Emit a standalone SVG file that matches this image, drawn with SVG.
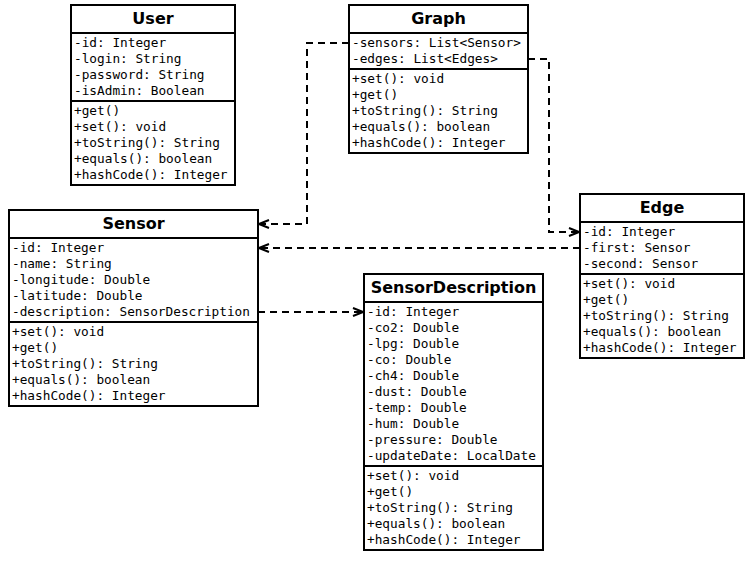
<svg xmlns="http://www.w3.org/2000/svg" width="755" height="561" viewBox="0 0 755 561">
<style>
.box{fill:#fff;stroke:#000;stroke-width:2}
.sep{stroke:#000;stroke-width:2}
.t{font-family:"DejaVu Sans","Liberation Sans",sans-serif;font-weight:bold;font-size:16px;text-anchor:middle;fill:#000}
.m{font-family:"DejaVu Sans Mono","Liberation Mono",monospace;font-size:12.75px;fill:#000}
.c{fill:none;stroke:#000;stroke-width:2;stroke-dasharray:7 5}
</style>
<defs>
<marker id="arr" viewBox="0 0 12 10" refX="11" refY="5" markerWidth="12" markerHeight="10" markerUnits="userSpaceOnUse" orient="auto">
<path d="M1,1 L11,5 L1,9" fill="none" stroke="#000" stroke-width="2" stroke-dasharray="none"/>
</marker>
</defs>
<g id="connectors">
<path class="c" d="M349,43 H307 V224 H259" marker-end="url(#arr)"/>
<path class="c" d="M528,59 H549 V232 H579" marker-end="url(#arr)"/>
<path class="c" d="M580,248 H259" marker-end="url(#arr)"/>
<path class="c" d="M258,312 H363" marker-end="url(#arr)"/>
</g>
<g id="User">
<rect class="box" x="71" y="5" width="164" height="180"/>
<line class="sep" x1="71" y1="33" x2="235" y2="33"/>
<line class="sep" x1="71" y1="101" x2="235" y2="101"/>
<text class="t" x="153" y="24">User</text>
<text class="m" x="74" y="46.5">-id: Integer</text>
<text class="m" x="74" y="62.5">-login: String</text>
<text class="m" x="74" y="78.5">-password: String</text>
<text class="m" x="74" y="94.5">-isAdmin: Boolean</text>
<text class="m" x="74" y="114.5">+get()</text>
<text class="m" x="74" y="130.5">+set(): void</text>
<text class="m" x="74" y="146.5">+toString(): String</text>
<text class="m" x="74" y="162.5">+equals(): boolean</text>
<text class="m" x="74" y="178.5">+hashCode(): Integer</text>
</g>
<g id="Graph">
<rect class="box" x="349" y="5" width="179" height="148"/>
<line class="sep" x1="349" y1="33" x2="528" y2="33"/>
<line class="sep" x1="349" y1="69" x2="528" y2="69"/>
<text class="t" x="438.5" y="24">Graph</text>
<text class="m" x="352" y="46.5">-sensors: List&lt;Sensor&gt;</text>
<text class="m" x="352" y="62.5">-edges: List&lt;Edges&gt;</text>
<text class="m" x="352" y="82.5">+set(): void</text>
<text class="m" x="352" y="98.5">+get()</text>
<text class="m" x="352" y="114.5">+toString(): String</text>
<text class="m" x="352" y="130.5">+equals(): boolean</text>
<text class="m" x="352" y="146.5">+hashCode(): Integer</text>
</g>
<g id="Sensor">
<rect class="box" x="9" y="210" width="249" height="196"/>
<line class="sep" x1="9" y1="238" x2="258" y2="238"/>
<line class="sep" x1="9" y1="322" x2="258" y2="322"/>
<text class="t" x="133.5" y="229">Sensor</text>
<text class="m" x="12" y="251.5">-id: Integer</text>
<text class="m" x="12" y="267.5">-name: String</text>
<text class="m" x="12" y="283.5">-longitude: Double</text>
<text class="m" x="12" y="299.5">-latitude: Double</text>
<text class="m" x="12" y="315.5">-description: SensorDescription</text>
<text class="m" x="12" y="335.5">+set(): void</text>
<text class="m" x="12" y="351.5">+get()</text>
<text class="m" x="12" y="367.5">+toString(): String</text>
<text class="m" x="12" y="383.5">+equals(): boolean</text>
<text class="m" x="12" y="399.5">+hashCode(): Integer</text>
</g>
<g id="SensorDescription">
<rect class="box" x="364" y="274" width="179" height="276"/>
<line class="sep" x1="364" y1="302" x2="543" y2="302"/>
<line class="sep" x1="364" y1="466" x2="543" y2="466"/>
<text class="t" x="453.5" y="293">SensorDescription</text>
<text class="m" x="367" y="315.5">-id: Integer</text>
<text class="m" x="367" y="331.5">-co2: Double</text>
<text class="m" x="367" y="347.5">-lpg: Double</text>
<text class="m" x="367" y="363.5">-co: Double</text>
<text class="m" x="367" y="379.5">-ch4: Double</text>
<text class="m" x="367" y="395.5">-dust: Double</text>
<text class="m" x="367" y="411.5">-temp: Double</text>
<text class="m" x="367" y="427.5">-hum: Double</text>
<text class="m" x="367" y="443.5">-pressure: Double</text>
<text class="m" x="367" y="459.5">-updateDate: LocalDate</text>
<text class="m" x="367" y="479.5">+set(): void</text>
<text class="m" x="367" y="495.5">+get()</text>
<text class="m" x="367" y="511.5">+toString(): String</text>
<text class="m" x="367" y="527.5">+equals(): boolean</text>
<text class="m" x="367" y="543.5">+hashCode(): Integer</text>
</g>
<g id="Edge">
<rect class="box" x="580" y="194" width="164" height="164"/>
<line class="sep" x1="580" y1="222" x2="744" y2="222"/>
<line class="sep" x1="580" y1="274" x2="744" y2="274"/>
<text class="t" x="662" y="213">Edge</text>
<text class="m" x="583" y="235.5">-id: Integer</text>
<text class="m" x="583" y="251.5">-first: Sensor</text>
<text class="m" x="583" y="267.5">-second: Sensor</text>
<text class="m" x="583" y="287.5">+set(): void</text>
<text class="m" x="583" y="303.5">+get()</text>
<text class="m" x="583" y="319.5">+toString(): String</text>
<text class="m" x="583" y="335.5">+equals(): boolean</text>
<text class="m" x="583" y="351.5">+hashCode(): Integer</text>
</g>
</svg>
